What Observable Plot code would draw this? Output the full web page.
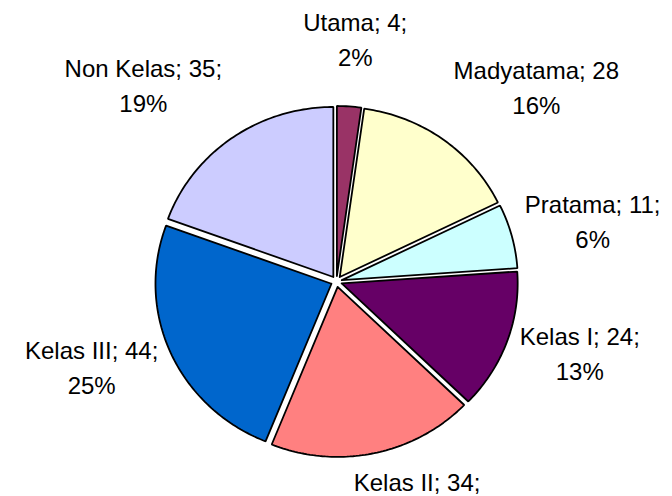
<!DOCTYPE html>
<html>
<head>
<meta charset="utf-8">
<script src="https://cdn.jsdelivr.net/npm/d3@7"></script>
<script src="https://cdn.jsdelivr.net/npm/@observablehq/plot@0.6"></script>
<style>
  body { margin: 0; background: #fff; }
  #chart svg { overflow: visible; }
</style>
</head>
<body>
<div id="chart"></div>
<script>
// ---- data ----
const names = ["Utama", "Madyatama", "Pratama", "Kelas I", "Kelas II", "Kelas III", "Non Kelas"];
const values = [4, 28, 11, 24, 34, 44, 35];
const percents = ["2%", "16%", "6%", "13%", "19%", "25%", "19%"];
const valueSuffix = [";", "", ";", ";", ";", ";", ";"];
const colors = ["#993366", "#FFFFCC", "#CCFFFF", "#660066", "#FF8080", "#0066CC", "#CCCCFF"];

// ---- layout ----
const W = 672, H = 496;
const cx = 336, cy = 281, rx = 176, ry = 170;
const explode = 5.5;      // px
const labelR = 195;       // px
const fontSize = 24;
const lineGap = 35;       // px between label lines
const font = "Liberation Sans, Arial, sans-serif";

const arcs = d3.pie().sort(null).value(d => d)(values);

const slices = arcs.map((a, i) => {
  const am = (a.startAngle + a.endAngle) / 2;
  const ox = explode * Math.sin(am) / rx, oy = explode * Math.cos(am) / ry;
  const pts = [{x: ox, y: oy}];
  const n = Math.max(2, Math.ceil((a.endAngle - a.startAngle) / (Math.PI / 180)));
  for (let k = 0; k <= n; k++) {
    const t = a.startAngle + (a.endAngle - a.startAngle) * k / n;
    pts.push({x: ox + Math.sin(t), y: oy + Math.cos(t)});
  }
  pts.push({x: ox, y: oy});
  return pts;
});

const ctx = document.createElement("canvas").getContext("2d");
ctx.font = `${fontSize}px 'Liberation Sans', Arial`;
const clamp = v => Math.max(-1, Math.min(1, v));

const labels = arcs.map((a, i) => {
  const am = (a.startAngle + a.endAngle) / 2;
  const s = Math.sin(am), c = Math.cos(am);
  const line1 = `${names[i]}; ${values[i]}${valueSuffix[i]}`;
  const text = `${line1}\n${percents[i]}`;
  const w = Math.max(ctx.measureText(line1).width, ctx.measureText(percents[i]).width);
  const h = lineGap * 2;
  const f = clamp(4 * Math.sign(s) * Math.max(0, Math.abs(s) - 0.05));
  const g = c >= 0 ? clamp(1.25 * c) : -0.75 * c * c;
  const R = labelR + 15 * Math.pow(Math.max(0, c), 6);
  const px = R * s + f * w / 2;
  const py = R * c + g * h / 2;
  return {x: px / rx, y: py / ry, text};
});

const chart = Plot.plot({
  width: W,
  height: H,
  margin: 0,
  x: {domain: [-1, 1], range: [cx - rx, cx + rx], axis: null},
  y: {domain: [-1, 1], range: [cy + ry, cy - ry], axis: null},
  style: {background: "#fff", fontFamily: font},
  marks: [
    ...slices.map((pts, i) => Plot.line(pts, {
      x: "x", y: "y", fill: colors[i], stroke: "#000",
      strokeWidth: 1.8, strokeLinejoin: "miter", curve: "linear"
    })),
    Plot.text(labels, {
      x: "x", y: "y", text: "text", fontSize: fontSize, fontFamily: font,
      lineHeight: lineGap / fontSize, textAnchor: "middle", lineAnchor: "middle",
      fill: "#000"
    })
  ]
});
document.getElementById("chart").appendChild(chart);
</script>
</body>
</html>
